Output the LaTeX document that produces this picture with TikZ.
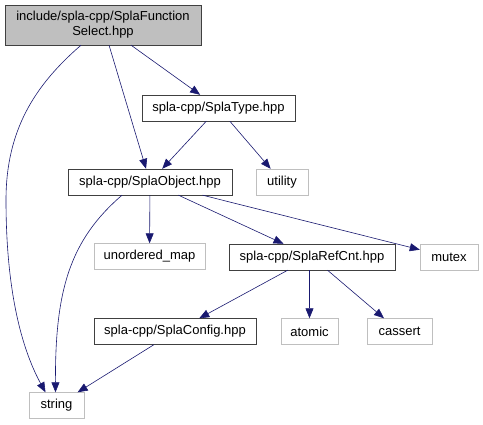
\documentclass[tikz,border=0pt]{standalone}
\usepackage{fontspec}
\setmainfont{Liberation Sans}
\usetikzlibrary{arrows.meta}
\definecolor{edgecolor}{RGB}{25,25,112}
\definecolor{rootfill}{RGB}{191,191,191}
\definecolor{sysborder}{RGB}{191,191,191}

\begin{document}
\begin{tikzpicture}[x=1pt, y=-1pt]
  \tikzset{
    rootfile/.style={
      draw=black!75,
      fill=rootfill,
      inner sep=0pt,
      align=center,
      font=\fontsize{13}{15}\selectfont
    },
    hdrfile/.style={
      draw=black!75,
      fill=white,
      inner sep=0pt,
      minimum height=26pt,
      font=\fontsize{13}{15}\selectfont
    },
    sysfile/.style={
      draw=sysborder,
      fill=white,
      inner sep=0pt,
      minimum height=26pt,
      font=\fontsize{13}{15}\selectfont
    },
    dep/.style={
      draw=edgecolor,
      semithick,
      -{Triangle[length=10pt,width=8pt]}
    }
  }
  \useasboundingbox (0,0) rectangle (483,425);

  % Include files
    \node[rootfile, minimum width=196pt, minimum height=40pt] at (103,25) (root) {
        include/spla-cpp/SplaFunction\\Select.hpp
    };
    \node[hdrfile, minimum width=153pt] at (218.5,108) (type) {
        spla-cpp/SplaType.hpp
    };
    \node[sysfile, minimum width=52pt] at (282,182) (utility) {
        utility
    };
    \node[hdrfile, minimum width=164pt] at (150,182) (object) {
        spla-cpp/SplaObject.hpp
    };
    \node[sysfile, minimum width=111pt] at (149.5,256.5) (umap) {
        unordered\_map
    };
    \node[hdrfile, minimum width=166pt] at (312,257) (refcnt) {
        spla-cpp/SplaRefCnt.hpp
    };
    \node[sysfile, minimum width=58pt] at (449,257) (mutex) {
        mutex
    };
    \node[hdrfile, minimum width=162pt] at (175,331.5) (config) {
        spla-cpp/SplaConfig.hpp
    };
    \node[sysfile, minimum width=57pt] at (309.5,331.5) (atomic) {
        atomic
    };
    \node[sysfile, minimum width=65pt] at (399.5,331.5) (cassert) {
        cassert
    };
    \node[sysfile, minimum width=55pt] at (56.5,405.5) (string) {
        string
    };

  % Dependencies
    \draw[dep] ([xshift=-22pt]root.south) .. controls (35,85) and (6,130) .. (6,200)
        .. controls (6,300) and (25,355) .. ([xshift=-11pt]string.north);
    \draw[dep] (root) -- (object);
    \draw[dep] (root) -- (type);
    \draw[dep] (type) -- (object);
    \draw[dep] (type) -- (utility);
    \draw[dep] ([xshift=-28pt]object.south) .. controls (70,240) and (55,290) .. ([xshift=-1pt]string.north);
    \draw[dep] (object) -- (umap);
    \draw[dep] (object) -- (refcnt);
    \draw[dep] (object) -- (mutex);
    \draw[dep] (refcnt) -- (config);
    \draw[dep] (refcnt.south -| atomic) -- (atomic);
    \draw[dep] (refcnt) -- (cassert);
    \draw[dep] (config) -- (string);

\end{tikzpicture}
\end{document}
